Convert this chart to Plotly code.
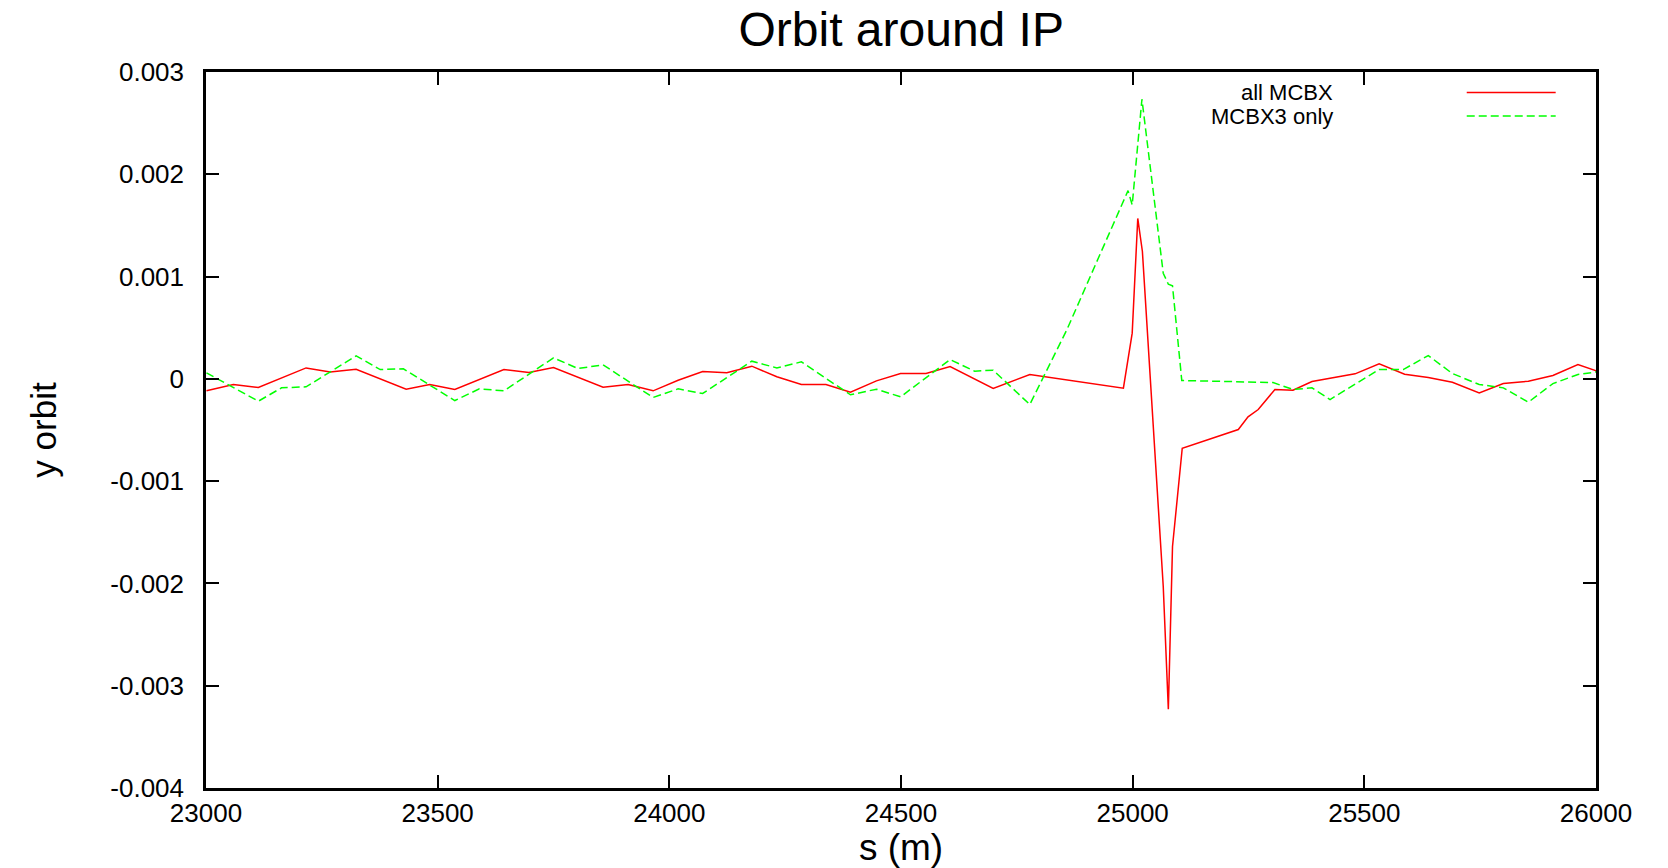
import plotly.graph_objects as go

# ---- data ----
s_all = [23001, 23059, 23113, 23216, 23268, 23324, 23432, 23483, 23537, 23643,
         23697, 23750, 23857, 23911, 23965, 24019, 24072, 24124, 24178, 24232,
         24285, 24338, 24391, 24447, 24499, 24554, 24606, 24699, 24778, 24980,
         24999, 25011, 25021, 25066, 25077, 25086, 25107, 25228, 25249, 25271,
         25307, 25346, 25387, 25426, 25480, 25532, 25587, 25638, 25690, 25748,
         25800, 25854, 25907, 25961, 26001]
y_all = [-0.000117, -0.000055, -0.000085, 0.000107, 0.000068, 0.000094, -0.000101,
         -0.000055, -0.000104, 0.000091, 0.000062, 0.000111, -0.000081, -0.000055,
         -0.000117, -0.000013, 0.000072, 0.000059, 0.000124, 0.000020, -0.000055,
         -0.000055, -0.000130, -0.000020, 0.000052, 0.000052, 0.000120, -0.000094,
         0.000043, -0.000091, 0.000447, 0.001568, 0.001245, -0.002030, -0.003229,
         -0.001639, -0.000678, -0.000495, -0.000371, -0.000300, -0.000104, -0.000111,
         -0.000026, 0.000003, 0.000049, 0.000147, 0.000046, 0.000013, -0.000033,
         -0.000137, -0.000046, -0.000023, 0.000033, 0.000140, 0.000078]

s_mcbx3 = [23001, 23113, 23163, 23216, 23324, 23376, 23426, 23537, 23590, 23643,
           23750, 23803, 23857, 23965, 24019, 24072, 24178, 24232, 24285, 24391,
           24447, 24499, 24606, 24659, 24699, 24778, 24858, 24990, 24999, 25020,
           25066, 25077, 25086, 25106, 25303, 25346, 25387, 25426, 25532, 25584,
           25638, 25690, 25748, 25800, 25854, 25907, 25961, 26001]
y_mcbx3 = [0.000059, -0.000218, -0.000088, -0.000078, 0.000225, 0.000091, 0.000098,
           -0.000212, -0.000098, -0.000117, 0.000205, 0.000101, 0.000137, -0.000182,
           -0.000098, -0.000143, 0.000173, 0.000107, 0.000166, -0.000156, -0.000101,
           -0.000176, 0.000189, 0.000075, 0.000085, -0.000251, 0.000480, 0.001840,
           0.001700, 0.002734, 0.001033, 0.000925, 0.000909, -0.000016, -0.000036,
           -0.000104, -0.000088, -0.000202, 0.000091, 0.000091, 0.000228, 0.000052,
           -0.000055, -0.000088, -0.000228, -0.000046, 0.000042, 0.000068]

series_names = ["all MCBX", "MCBX3 only"]
x_ticks = [23000, 23500, 24000, 24500, 25000, 25500, 26000]
x_ticktext = ["23000", "23500", "24000", "24500", "25000", "25500", "26000"]
y_ticks = [-0.004, -0.003, -0.002, -0.001, 0, 0.001, 0.002, 0.003]
y_ticktext = ["-0.004", "-0.003", "-0.002", "-0.001", "0", "0.001", "0.002", "0.003"]

FONT = "Liberation Sans, Arial, Helvetica, sans-serif"
RED = "#ff0000"
GREEN = "#00ff00"
GREEN_DASH = "8px,4px"

fig = go.Figure()
fig.add_trace(go.Scatter(x=s_all, y=y_all, mode="lines", name=series_names[0],
                         line=dict(color=RED, width=1.5), showlegend=False))
fig.add_trace(go.Scatter(x=s_mcbx3, y=y_mcbx3, mode="lines", name=series_names[1],
                         line=dict(color=GREEN, width=1.5, dash=GREEN_DASH),
                         showlegend=False))

# legend in gnuplot style: text on the left, line sample on the right
legend_rows_y = [0.9714, 0.9385]
for name, color, dash, ly in zip(series_names, [RED, GREEN], ["solid", GREEN_DASH], legend_rows_y):
    fig.add_annotation(x=0.812, y=ly, xref="paper", yref="paper", text=name,
                       showarrow=False, xanchor="right", yanchor="middle",
                       font=dict(family=FONT, size=22, color="black"))
    fig.add_shape(type="line", xref="paper", yref="paper", x0=0.907, x1=0.971,
                  y0=ly, y1=ly, line=dict(color=color, width=1.5, dash=dash))

axis_common = dict(showline=True, linecolor="black", linewidth=2.5, mirror="ticks",
                   ticks="inside", ticklen=13, tickwidth=1.5, tickcolor="black",
                   showgrid=False, zeroline=False)

fig.update_layout(
    width=1668, height=868,
    margin=dict(l=206, r=72, t=72, b=80),
    paper_bgcolor="white", plot_bgcolor="white",
    title=dict(text="Orbit around IP", x=0.5403, xanchor="center",
               y=1 - 29 / 868, yanchor="middle", yref="container",
               font=dict(family=FONT, size=48, color="black")),
    xaxis=dict(range=[23000, 26000], tickvals=x_ticks, ticktext=x_ticktext,
               ticklabelstandoff=0,
               tickfont=dict(family=FONT, size=26, color="black"),
               title=dict(text="s (m)", standoff=2,
                          font=dict(family=FONT, size=37, color="black")),
               **axis_common),
    yaxis=dict(range=[-0.004, 0.003], tickvals=y_ticks, ticktext=y_ticktext,
               ticklabelstandoff=14,
               tickfont=dict(family=FONT, size=26, color="black"),
               title=dict(text="y orbit", standoff=44,
                          font=dict(family=FONT, size=35, color="black")),
               **axis_common),
)

fig.write_html("out.html")
